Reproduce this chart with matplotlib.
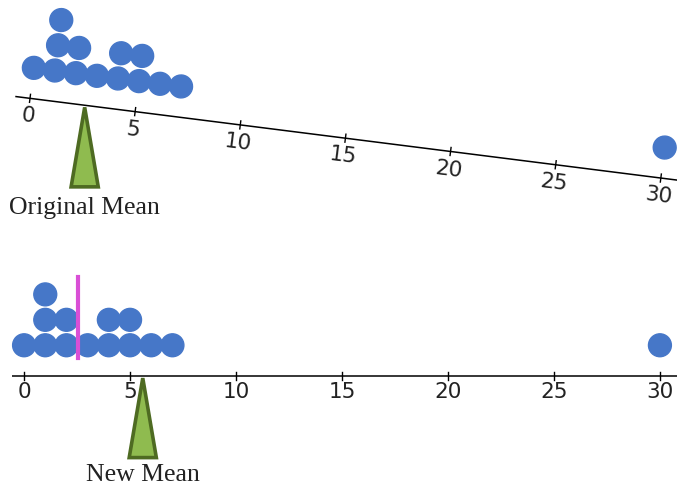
"""
Dot plots on a number line: a tipped balance (original mean) and a level one (new mean)
"""

import matplotlib
matplotlib.use("Agg")
import matplotlib.pyplot as plt
from matplotlib.patches import Circle, Polygon
from matplotlib.transforms import Affine2D
from collections import Counter

# data
values = [0, 1, 1, 1, 2, 2, 3, 4, 4, 5, 5, 6, 7, 30]
ticks = [0, 5, 10, 15, 20, 25, 30]
tick_labels = ["0", "5", "10", "15", "20", "25", "30"]
original_mean = 2.6
new_mean = 5.6
labels = ["Original Mean", "New Mean"]

DOT = "#4677c8"
GREEN = "#8fbb4f"
GREEN_EDGE = "#4e6b22"
MAGENTA = "#d94fd6"

fig = plt.figure(figsize=(6.77, 4.86), dpi=100)
ax = fig.add_axes([0, 0, 1, 1])
ax.set_xlim(-1.13, 30.8)
ax.set_ylim(-5.19, 17.74)
ax.set_aspect("equal")
ax.axis("off")

# top line is tipped over, bottom line is level
tilt = Affine2D().rotate_deg(-7.2).translate(0.28, 13.1)
level = Affine2D()


def draw_line(tr, xmin, rot, lab_y):
    t = tr + ax.transData
    ax.plot([xmin, 31.5], [0, 0], color="black", lw=1.1, transform=t,
            solid_capstyle="butt")
    for v, lab in zip(ticks, tick_labels):
        ax.plot([v, v], [-0.19, 0.19], color="black", lw=1.0, transform=t)
        ax.text(v, lab_y, lab, ha="center", va="center", fontsize=15.5,
                rotation=rot, rotation_mode="anchor", transform=t,
                color="#222222")
    seen = Counter()
    for v in values:
        row = seen[v]
        seen[v] += 1
        ax.add_patch(Circle((v, 1.45 + 1.2 * row), 0.54, color=DOT,
                            transform=t, zorder=3))


def draw_fulcrum(tr, mean, text, text_dy):
    ax_, ay = tr.transform((mean, 0))
    tri = Polygon([(ax_, ay - 0.1), (ax_ - 0.64, ay - 3.85),
                   (ax_ + 0.64, ay - 3.85)], closed=True,
                  facecolor=GREEN, edgecolor=GREEN_EDGE, lw=2.6,
                  joinstyle="miter", zorder=4)
    ax.add_patch(tri)
    ax.text(ax_, ay - text_dy, text, ha="center", va="center", fontsize=18.5,
            family="Liberation Serif", color="#222222")


draw_line(tilt, -0.7, -7.2, -0.85)
draw_fulcrum(tilt, original_mean, labels[0], 4.85)

draw_line(level, -0.55, 0, -0.75)
draw_fulcrum(level, new_mean, labels[1], 4.65)
ax.plot([original_mean - 0.05, original_mean - 0.05], [0.85, 4.67],
        color=MAGENTA, lw=3, zorder=5)

plt.savefig("out.png", dpi=100)
